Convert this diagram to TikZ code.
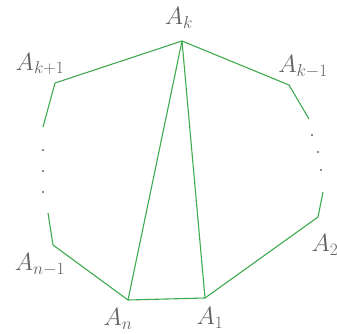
\documentclass[tikz,border=0pt]{standalone}
\usepackage{amsmath}
\usetikzlibrary{positioning}
\definecolor{edgegreen}{RGB}{62,170,80}
\definecolor{labelgray}{RGB}{95,100,95}
\begin{document}
\begin{tikzpicture}[x=1pt, y=-1pt,
        side/.style={edgegreen, line width=1.1pt},
        label/.style={labelgray, font=\fontsize{24}{28}\selectfont, inner sep=0pt},
        dot/.style={labelgray}
    ]
        \useasboundingbox (0,0) rectangle (337,334);

        % Vertices of the polygon
        \coordinate (ak) at (182, 41);
        \coordinate (akp) at (55, 83);
        \coordinate (akpend) at (43, 127);
        \coordinate (anmstart) at (48, 213);
        \coordinate (anm) at (53, 245);
        \coordinate (an) at (128, 300);
        \coordinate (a1) at (205, 298);
        \coordinate (a2) at (318, 217);
        \coordinate (a2end) at (323, 192);
        \coordinate (akm) at (289, 85);
        \coordinate (akmend) at (309, 119);

        % Labels
        \node[label] (ak_label) at (179, 18) {$A_k$};
        \node[label] (akp_label) at (40, 64) {$A_{k+1}$};
        \node[label] (akm_label) at (303, 67) {$A_{k-1}$};
        \node[label] (anm_label) at (40, 265) {$A_{n-1}$};
        \node[label] (an_label) at (118, 319) {$A_n$};
        \node[label] (a1_label) at (210, 318) {$A_1$};
        \node[label] (a2_label) at (325, 245) {$A_2$};

        % Sides
        \draw[side] (akpend) -- (akp) -- (ak) -- (akm) -- (akmend);
        \draw[side] (anmstart) -- (anm) -- (an) -- (a1) -- (a2) -- (a2end);

        % Diagonals from A_k
        \draw[side] (ak) -- (an);
        \draw[side] (ak) -- (a1);

        % Dots on both sides
        \foreach \y in {150,171,192} {
            \fill[dot] (43, \y) circle (1.1pt);
        }
        \foreach \x/\y in {312/135, 318/152, 321/170} {
            \fill[dot] (\x, \y) circle (1.1pt);
        }
    \end{tikzpicture}
\end{document}
